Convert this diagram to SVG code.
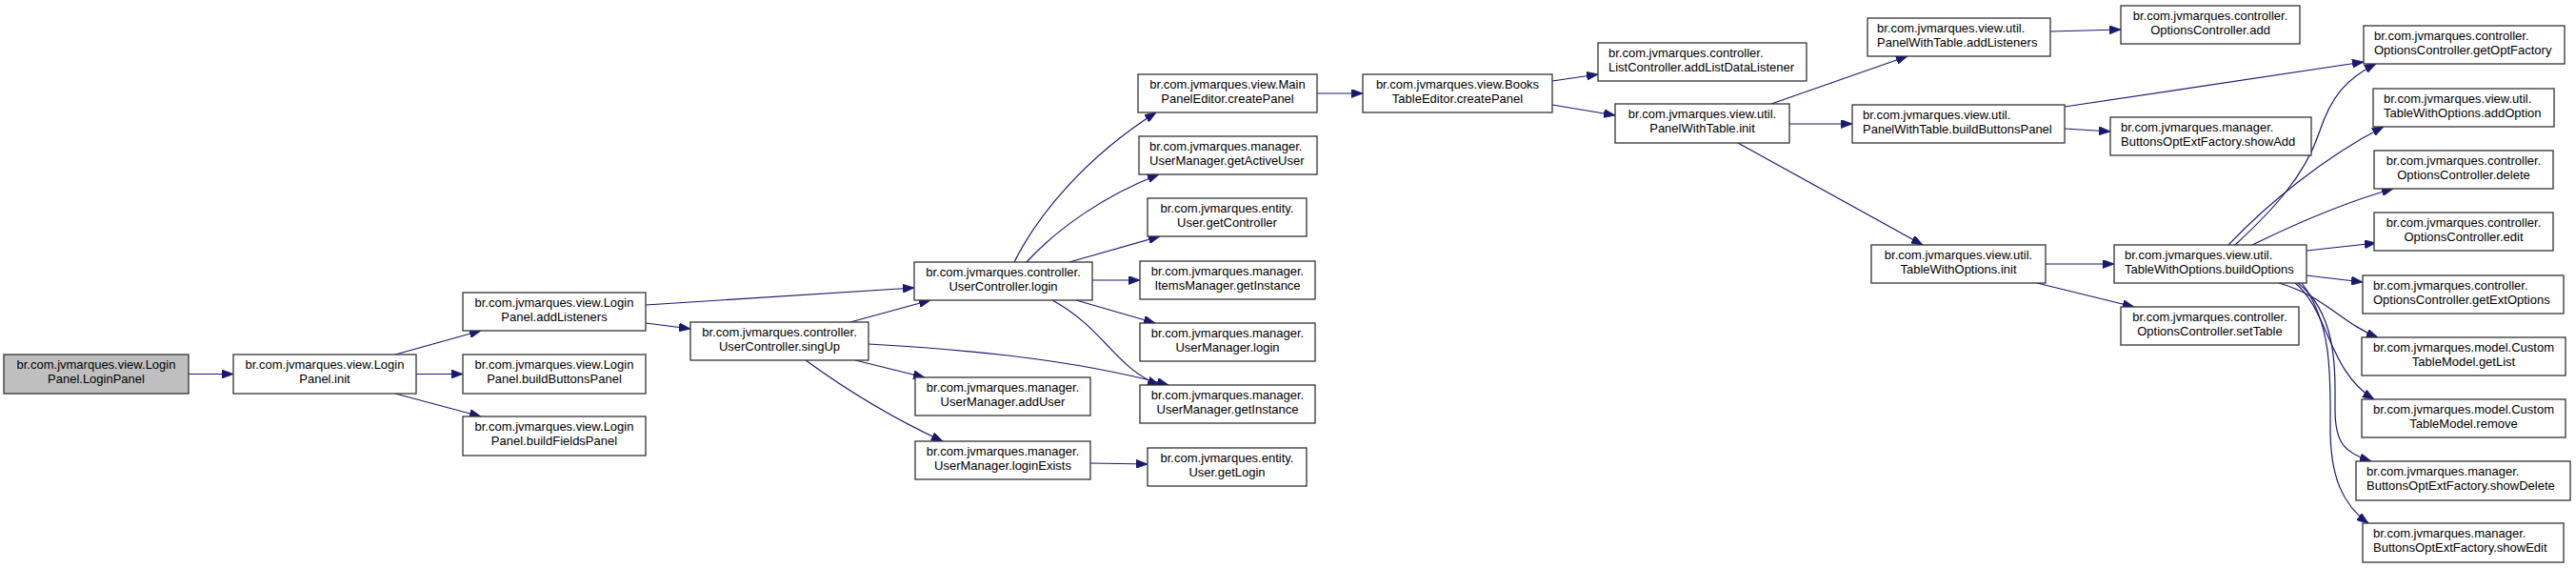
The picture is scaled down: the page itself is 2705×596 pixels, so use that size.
<svg xmlns="http://www.w3.org/2000/svg" width="2705" height="596" viewBox="0 0 2705 596">
<defs>
<style>
.n rect{fill:#ffffff;stroke:#333333;stroke-width:1.3}
.n.root rect{fill:#bfbfbf}
.n text{font-family:"Liberation Sans",Arial,sans-serif;font-size:13px;fill:#000000}
.c{text-anchor:middle}
.l{text-anchor:start}
.e path{fill:none;stroke:#191970;stroke-width:1.2;marker-end:url(#ah)}
</style>
<marker id="ah" viewBox="0 0 12 9" refX="12" refY="4.5" markerWidth="12" markerHeight="9" markerUnits="userSpaceOnUse" orient="auto">
<path d="M0,0 L12,4.5 L0,9 z" fill="#191970" stroke="#191970" stroke-width="0.8"/>
</marker>
</defs>
<rect width="2705" height="596" fill="#ffffff"/>
<g id="edges" class="e">
<path d="M198,392.5 L245,392.5"/>
<path d="M415,372 L505,347"/>
<path d="M437,392.5 L486,392.5"/>
<path d="M415,413 L505,437"/>
<path d="M678,320 L960,302"/>
<path d="M678,339 L725,345"/>
<path d="M893,338 L977,315"/>
<path d="M912,361 C1000,366 1120,375 1227,404"/>
<path d="M898,378 L971,396"/>
<path d="M846,378 C890,410 940,440 990,463"/>
<path d="M1145,486 L1205,487"/>
<path d="M1065,275 C1090,225 1140,165 1214,118"/>
<path d="M1078,275 C1110,240 1160,205 1217,183"/>
<path d="M1123,275 L1218,248"/>
<path d="M1147,294 L1197,294"/>
<path d="M1130,315 L1213,339"/>
<path d="M1105,315 C1160,345 1170,385 1217,404"/>
<path d="M1383,98 L1431,98"/>
<path d="M1630,85 L1678,78"/>
<path d="M1630,110 L1696,121"/>
<path d="M1860,109 L2003,59"/>
<path d="M1879,130 L1945,130"/>
<path d="M1825,150 L2019,257"/>
<path d="M2153,33 L2227,31"/>
<path d="M2168,112 L2482,65"/>
<path d="M2168,135 L2216,138"/>
<path d="M2148,277 L2220,277"/>
<path d="M2139,297 L2241,322"/>
<path d="M2347,257 C2385,222 2420,185 2435,140 C2448,100 2465,82 2495,67"/>
<path d="M2340,257 C2380,215 2440,165 2503,133"/>
<path d="M2365,257 C2410,235 2460,213 2513,198"/>
<path d="M2422,263 L2495,255"/>
<path d="M2422,289 L2481,296"/>
<path d="M2393,297 C2440,310 2460,340 2497,354"/>
<path d="M2410,297 C2445,325 2445,390 2493,419"/>
<path d="M2413,297 C2455,330 2452,390 2452,430 C2452,465 2462,475 2490,484"/>
<path d="M2417,297 C2450,340 2447,400 2447,450 C2447,500 2460,530 2487,549"/>
</g>
<g id="n_LoginPanel_LoginPanel" class="n root"><rect x="4" y="372" width="194" height="41"/><text class="c" x="101" y="387">br.com.jvmarques.view.Login</text><text class="c" x="101" y="402">Panel.LoginPanel</text></g>
<g id="n_LoginPanel_init" class="n"><rect x="245" y="372" width="192" height="41"/><text class="c" x="341" y="387">br.com.jvmarques.view.Login</text><text class="c" x="341" y="402">Panel.init</text></g>
<g id="n_LoginPanel_addListeners" class="n"><rect x="486" y="307" width="192" height="40"/><text class="c" x="582" y="322">br.com.jvmarques.view.Login</text><text class="c" x="582" y="336.5">Panel.addListeners</text></g>
<g id="n_LoginPanel_buildButtonsPanel" class="n"><rect x="486" y="372" width="192" height="41"/><text class="c" x="582" y="387">br.com.jvmarques.view.Login</text><text class="c" x="582" y="402">Panel.buildButtonsPanel</text></g>
<g id="n_LoginPanel_buildFieldsPanel" class="n"><rect x="486" y="437" width="192" height="41"/><text class="c" x="582" y="452">br.com.jvmarques.view.Login</text><text class="c" x="582" y="467">Panel.buildFieldsPanel</text></g>
<g id="n_UserController_singUp" class="n"><rect x="725" y="338" width="187" height="40"/><text class="c" x="818.5" y="353">br.com.jvmarques.controller.</text><text class="c" x="818.5" y="367.5">UserController.singUp</text></g>
<g id="n_UserController_login" class="n"><rect x="960" y="275" width="187" height="40"/><text class="c" x="1053.5" y="290">br.com.jvmarques.controller.</text><text class="c" x="1053.5" y="304.5">UserController.login</text></g>
<g id="n_UserManager_addUser" class="n"><rect x="961" y="396" width="184" height="40"/><text class="c" x="1053" y="411">br.com.jvmarques.manager.</text><text class="c" x="1053" y="425.5">UserManager.addUser</text></g>
<g id="n_UserManager_loginExists" class="n"><rect x="961" y="463" width="184" height="40"/><text class="c" x="1053" y="478">br.com.jvmarques.manager.</text><text class="c" x="1053" y="492.5">UserManager.loginExists</text></g>
<g id="n_MainPanelEditor_createPanel" class="n"><rect x="1195" y="78" width="188" height="40"/><text class="c" x="1289" y="93">br.com.jvmarques.view.Main</text><text class="c" x="1289" y="107.5">PanelEditor.createPanel</text></g>
<g id="n_UserManager_getActiveUser" class="n"><rect x="1196" y="143" width="187" height="40"/><text class="l" x="1207" y="158">br.com.jvmarques.manager.</text><text class="l" x="1207" y="172.5">UserManager.getActiveUser</text></g>
<g id="n_User_getController" class="n"><rect x="1205" y="208" width="167" height="40"/><text class="c" x="1288.5" y="223">br.com.jvmarques.entity.</text><text class="c" x="1288.5" y="237.5">User.getController</text></g>
<g id="n_ItemsManager_getInstance" class="n"><rect x="1197" y="274" width="184" height="40"/><text class="c" x="1289" y="289">br.com.jvmarques.manager.</text><text class="c" x="1289" y="303.5">ItemsManager.getInstance</text></g>
<g id="n_UserManager_login" class="n"><rect x="1197" y="339" width="184" height="40"/><text class="c" x="1289" y="354">br.com.jvmarques.manager.</text><text class="c" x="1289" y="368.5">UserManager.login</text></g>
<g id="n_UserManager_getInstance" class="n"><rect x="1197" y="404" width="184" height="40"/><text class="c" x="1289" y="419">br.com.jvmarques.manager.</text><text class="c" x="1289" y="433.5">UserManager.getInstance</text></g>
<g id="n_User_getLogin" class="n"><rect x="1205" y="470" width="167" height="40"/><text class="c" x="1288.5" y="485">br.com.jvmarques.entity.</text><text class="c" x="1288.5" y="499.5">User.getLogin</text></g>
<g id="n_BooksTableEditor_createPanel" class="n"><rect x="1431" y="78" width="199" height="40"/><text class="c" x="1530.5" y="93">br.com.jvmarques.view.Books</text><text class="c" x="1530.5" y="107.5">TableEditor.createPanel</text></g>
<g id="n_ListController_addListDataListener" class="n"><rect x="1678" y="45" width="219" height="40"/><text class="l" x="1689" y="60">br.com.jvmarques.controller.</text><text class="l" x="1689" y="74.5">ListController.addListDataListener</text></g>
<g id="n_PanelWithTable_init" class="n"><rect x="1696" y="109" width="183" height="41"/><text class="c" x="1787.5" y="124">br.com.jvmarques.view.util.</text><text class="c" x="1787.5" y="139">PanelWithTable.init</text></g>
<g id="n_PanelWithTable_addListeners" class="n"><rect x="1961" y="19" width="192" height="40"/><text class="l" x="1971" y="34">br.com.jvmarques.view.util.</text><text class="l" x="1971" y="48.5">PanelWithTable.addListeners</text></g>
<g id="n_PanelWithTable_buildButtonsPanel" class="n"><rect x="1945" y="110" width="223" height="40"/><text class="l" x="1956" y="125">br.com.jvmarques.view.util.</text><text class="l" x="1956" y="139.5">PanelWithTable.buildButtonsPanel</text></g>
<g id="n_TableWithOptions_init" class="n"><rect x="1965" y="257" width="183" height="40"/><text class="c" x="2056.5" y="272">br.com.jvmarques.view.util.</text><text class="c" x="2056.5" y="286.5">TableWithOptions.init</text></g>
<g id="n_OptionsController_add" class="n"><rect x="2227" y="6" width="188" height="40"/><text class="c" x="2321" y="21">br.com.jvmarques.controller.</text><text class="c" x="2321" y="35.5">OptionsController.add</text></g>
<g id="n_ButtonsOptExtFactory_showAdd" class="n"><rect x="2216" y="123" width="211" height="40"/><text class="l" x="2227" y="138">br.com.jvmarques.manager.</text><text class="l" x="2227" y="152.5">ButtonsOptExtFactory.showAdd</text></g>
<g id="n_TableWithOptions_buildOptions" class="n"><rect x="2220" y="257" width="202" height="40"/><text class="l" x="2231" y="272">br.com.jvmarques.view.util.</text><text class="l" x="2231" y="286.5">TableWithOptions.buildOptions</text></g>
<g id="n_OptionsController_setTable" class="n"><rect x="2227" y="322" width="187" height="40"/><text class="c" x="2320.5" y="337">br.com.jvmarques.controller.</text><text class="c" x="2320.5" y="351.5">OptionsController.setTable</text></g>
<g id="n_OptionsController_getOptFactory" class="n"><rect x="2482" y="27" width="211" height="40"/><text class="l" x="2493" y="42">br.com.jvmarques.controller.</text><text class="l" x="2493" y="56.5">OptionsController.getOptFactory</text></g>
<g id="n_TableWithOptions_addOption" class="n"><rect x="2492" y="93" width="190" height="40"/><text class="l" x="2503" y="108">br.com.jvmarques.view.util.</text><text class="l" x="2503" y="122.5">TableWithOptions.addOption</text></g>
<g id="n_OptionsController_delete" class="n"><rect x="2493" y="158" width="188" height="40"/><text class="c" x="2587" y="173">br.com.jvmarques.controller.</text><text class="c" x="2587" y="187.5">OptionsController.delete</text></g>
<g id="n_OptionsController_edit" class="n"><rect x="2493" y="223" width="188" height="40"/><text class="c" x="2587" y="238">br.com.jvmarques.controller.</text><text class="c" x="2587" y="252.5">OptionsController.edit</text></g>
<g id="n_OptionsController_getExtOptions" class="n"><rect x="2481" y="289" width="211" height="40"/><text class="l" x="2492" y="304">br.com.jvmarques.controller.</text><text class="l" x="2492" y="318.5">OptionsController.getExtOptions</text></g>
<g id="n_CustomTableModel_getList" class="n"><rect x="2480" y="354" width="214" height="40"/><text class="c" x="2587" y="369">br.com.jvmarques.model.Custom</text><text class="c" x="2587" y="383.5">TableModel.getList</text></g>
<g id="n_CustomTableModel_remove" class="n"><rect x="2480" y="419" width="214" height="40"/><text class="c" x="2587" y="434">br.com.jvmarques.model.Custom</text><text class="c" x="2587" y="448.5">TableModel.remove</text></g>
<g id="n_ButtonsOptExtFactory_showDelete" class="n"><rect x="2474" y="484" width="225" height="41"/><text class="l" x="2485" y="499">br.com.jvmarques.manager.</text><text class="l" x="2485" y="514">ButtonsOptExtFactory.showDelete</text></g>
<g id="n_ButtonsOptExtFactory_showEdit" class="n"><rect x="2481" y="549" width="211" height="41"/><text class="l" x="2492" y="564">br.com.jvmarques.manager.</text><text class="l" x="2492" y="579">ButtonsOptExtFactory.showEdit</text></g>
</svg>
